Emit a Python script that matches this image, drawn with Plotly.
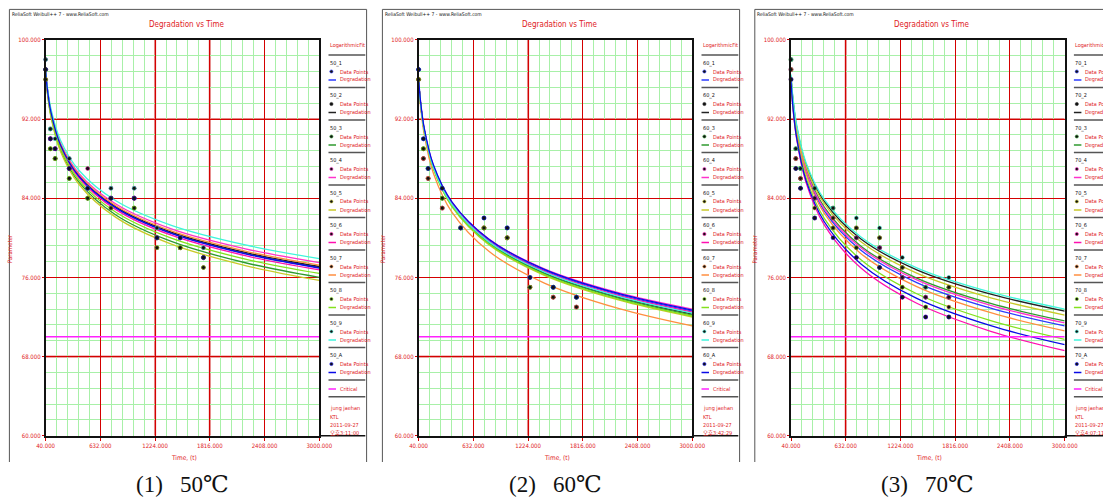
import plotly.graph_objects as go

W, H = 1103, 497
RED = '#e0211d'
GRID_RED = '#d40000'
GRID_PINK = '#e58585'
GREEN = '#a8f0a8'
CRIT_COLOR = '#ff22ff'
NARROW = 'Liberation Sans Narrow, DejaVu Sans Condensed, Arial Narrow, Noto Sans CJK KR, sans-serif'
SERIF = 'Liberation Serif, DejaVu Serif, Noto Sans CJK KR, serif'

# ---------------- data ----------------
PANEL_LABELS = ['(1)\u00a0\u00a0\u00a050\u2103', '(2)\u00a0\u00a0\u00a060\u2103', '(3)\u00a0\u00a0\u00a070\u2103']
PANEL_PREFIX = ['50', '60', '70']
SERIES_SUFFIX = ['1', '2', '3', '4', '5', '6', '7', '8', '9', 'A']
SERIES_COLORS = ['#2b3bff', '#222222', '#2f9a2f', '#ff33cc', '#c9c92a',
                 '#ff10b0', '#ff8f40', '#84e21e', '#3ff5dc', '#0a0ae6']
PANEL_STAMP = ['오후3:11:00', '오후3:42:29', '오후4:07:11']

X_TICKS = [40, 632, 1224, 1816, 2408, 3000]
Y_TICKS = [60, 68, 76, 84, 92, 100]
CRITICAL = 70
TIME_SPAN = [40, 3000]

# measurement times of the data points
PT_TIMES = [40, 92, 143, 296, 495, 747, 998, 1244, 1496, 1747]

P1_POINTS = [
    [97, 90, 89, 87, 85, 84, 84, 80, 80, 78],
    [96, 91, 88, 87, 84, 84, 84, 80, 79, 78],
    [97, 89, 88, 86, 84, 83, 83, 79, 79, 77],
    [98, 90, 89, 88, 85, 85, 85, 81, 80, 79],
    [96, 89, 88, 86, 84, 83, 83, 79, 79, 77],
    [97, 90, 89, 87, 87, 84, 84, 80, 80, 78],
    [97, 90, 89, 87, 85, 84, 84, 80, 79, 78],
    [97, 89, 88, 86, 84, 84, 83, 80, 79, 78],
    [98, 91, 90, 88, 85, 85, 85, 81, 80, 79],
    [97, 90, 89, 87, 85, 84, 84, 80, 80, 78],
]
P2_POINTS = [
    [97, 89, 87, 84, 81, 81, 80, 75, 74, 73],
    [96, 88, 86, 83, 81, 81, 80, 76, 75, 74],
    [96, 89, 87, 84, 81, 81, 81, 75, 75, 74],
    [97, 90, 87, 85, 81, 82, 81, 76, 75, 74],
    [96, 89, 86, 84, 81, 81, 80, 75, 74, 73],
    [96, 88, 86, 83, 81, 81, 80, 75, 74, 73],
    [96, 88, 86, 83, 81, 81, 80, 75, 74, 73],
    [96, 89, 87, 84, 81, 81, 80, 75, 75, 74],
    [97, 90, 87, 85, 81, 82, 81, 76, 75, 74],
    [97, 90, 87, 85, 81, 82, 81, 76, 75, 74],
]
P3_POINTS = [
    [97, 88, 86, 84, 82, 80, 79, 76, 74, 74],
    [98, 89, 87, 85, 83, 81, 80, 77, 75, 75],
    [97, 88, 86, 84, 82, 80, 79, 76, 74, 74],
    [97, 88, 86, 84, 82, 80, 79, 76, 74, 74],
    [98, 89, 87, 85, 83, 81, 80, 77, 75, 75],
    [96, 87, 85, 82, 81, 78, 77, 74, 72, 72],
    [97, 88, 86, 83, 82, 79, 78, 75, 73, 73],
    [96, 87, 85, 82, 81, 79, 77, 75, 73, 72],
    [98, 89, 87, 85, 83, 82, 81, 78, 75, 76],
    [96, 87, 85, 82, 80, 78, 77, 74, 72, 72],
]

# fitted degradation curves, read at these times
CURVE_T = [40, 60, 100, 200, 400, 800, 1400, 2200, 3000]

P1_CURVES = [
    [96.8, 94.94, 92.60, 89.41, 86.25, 83.06, 80.48, 78.43, 77.0],
    [96.8, 94.95, 92.62, 89.45, 86.30, 83.13, 80.57, 78.52, 77.1],
    [96.6, 94.66, 92.23, 88.92, 85.62, 82.30, 79.63, 77.48, 76.0],
    [96.8, 94.99, 92.71, 89.60, 86.51, 83.41, 80.90, 78.89, 77.5],
    [96.5, 94.54, 92.09, 88.74, 85.41, 82.06, 79.36, 77.20, 75.7],
    [96.7, 94.82, 92.47, 89.26, 86.07, 82.85, 80.26, 78.19, 76.75],
    [96.8, 94.96, 92.66, 89.51, 86.38, 83.23, 80.69, 78.66, 77.25],
    [96.6, 94.70, 92.32, 89.07, 85.83, 82.58, 79.96, 77.85, 76.4],
    [97.0, 95.20, 92.95, 89.88, 86.82, 83.74, 81.26, 79.28, 77.9],
    [96.8, 94.93, 92.59, 89.40, 86.22, 83.02, 80.44, 78.38, 76.95],
]
P2_CURVES = [
    [95.9, 93.71, 90.96, 87.21, 83.48, 79.73, 76.70, 74.28, 72.6],
    [95.9, 93.68, 90.90, 87.10, 83.32, 79.52, 76.45, 74.00, 72.3],
    [95.9, 93.67, 90.88, 87.06, 83.27, 79.45, 76.37, 73.91, 72.2],
    [95.9, 93.73, 91.00, 87.28, 83.59, 79.87, 76.87, 74.46, 72.8],
    [95.9, 93.65, 90.83, 86.99, 83.16, 79.31, 76.21, 73.72, 72.0],
    [95.9, 93.70, 90.94, 87.17, 83.43, 79.66, 76.62, 74.18, 72.5],
    [95.7, 93.39, 90.48, 86.52, 82.59, 78.63, 75.43, 72.87, 71.1],
    [95.9, 93.66, 90.85, 87.02, 83.21, 79.38, 76.29, 73.81, 72.1],
    [95.9, 93.69, 90.92, 87.13, 83.37, 79.59, 76.54, 74.09, 72.4],
    [96.1, 93.90, 91.14, 87.37, 83.63, 79.86, 76.82, 74.38, 72.7],
]
P3_CURVES = [
    [96.0, 93.66, 90.72, 86.71, 82.73, 78.72, 75.48, 72.89, 71.1],
    [96.3, 94.07, 91.28, 87.46, 83.67, 79.85, 76.77, 74.31, 72.6],
    [96.2, 93.89, 90.98, 87.02, 83.09, 79.13, 75.93, 73.37, 71.6],
    [96.1, 93.78, 90.86, 86.89, 82.93, 78.96, 75.75, 73.18, 71.4],
    [96.3, 94.03, 91.19, 87.31, 83.45, 79.57, 76.44, 73.94, 72.2],
    [95.8, 93.24, 90.03, 85.65, 81.30, 76.92, 73.39, 70.56, 68.6],
    [96.0, 93.61, 90.62, 86.53, 82.46, 78.37, 75.07, 72.43, 70.6],
    [95.9, 93.44, 90.36, 86.15, 81.96, 77.75, 74.35, 71.63, 69.75],
    [96.5, 94.27, 91.48, 87.66, 83.87, 80.05, 76.97, 74.51, 72.8],
    [95.8, 93.30, 90.16, 85.88, 81.62, 77.34, 73.88, 71.12, 69.2],
]

POINTS = [P1_POINTS, P2_POINTS, P3_POINTS]
CURVES = [P1_CURVES, P2_CURVES, P3_CURVES]

# major grid lines that look heavier (blurred) in the original
THICK_H = [[92, 68], [92, 68], [92, 68]]
THICK_V = [[1224, 1816], [1224], [632]]

# ---------------- layout helpers ----------------
OX = [0, 373, 745.4]          # horizontal offset of each panel (px)
PLOT_L, PLOT_R = 45.6, 319.3  # plot area in panel 1 (px)
PLOT_T, PLOT_B = 39.8, 435.8
LEG_FONT = 5.5


def px(x):
    return x / W


def py(y):
    return 1 - y / H


shapes = []
annotations = []


def text(x, y, s, size, color, xanchor='left', family=NARROW, angle=0):
    annotations.append(dict(x=px(x), y=py(y), xref='paper', yref='paper', text=s,
                            showarrow=False, xanchor=xanchor, yanchor='middle',
                            textangle=angle, borderpad=0,
                            font=dict(size=size, color=color, family=family)))


def seg(x0, y0, x1, y1, color, width):
    shapes.append(dict(type='line', xref='paper', yref='paper',
                       x0=px(x0), y0=py(y0), x1=px(x1), y1=py(y1),
                       line=dict(color=color, width=width)))


fig = go.Figure()
layout_axes = {}

for p in range(3):
    ox = OX[p]
    xa = 'x' if p == 0 else f'x{p + 1}'
    ya = 'y' if p == 0 else f'y{p + 1}'
    xkey = 'xaxis' if p == 0 else f'xaxis{p + 1}'
    ykey = 'yaxis' if p == 0 else f'yaxis{p + 1}'

    layout_axes[xkey] = dict(
        domain=[px(PLOT_L + ox), px(PLOT_R + ox)], anchor=ya, range=TIME_SPAN,
        tickmode='array', tickvals=X_TICKS, tickformat='.3f', automargin=False,
        showgrid=True, gridcolor=GRID_RED, gridwidth=1,
        minor=dict(tickmode='linear', tick0=X_TICKS[0], dtick=(X_TICKS[1] - X_TICKS[0]) / 5,
                   showgrid=True, gridcolor=GREEN, gridwidth=1, ticks=''),
        showline=True, linecolor='#111', linewidth=1.5, mirror=True,
        ticks='outside', ticklen=3, tickcolor=GRID_RED, tickwidth=1,
        tickfont=dict(size=6, color=RED, family=NARROW), zeroline=False, fixedrange=True)
    layout_axes[ykey] = dict(
        domain=[py(PLOT_B), py(PLOT_T)], anchor=xa, range=[Y_TICKS[0], Y_TICKS[-1]],
        tickmode='array', tickvals=Y_TICKS, tickformat='.3f', automargin=False,
        showgrid=True, gridcolor=GRID_RED, gridwidth=1,
        minor=dict(tickmode='linear', tick0=Y_TICKS[0], dtick=(Y_TICKS[1] - Y_TICKS[0]) / 5,
                   showgrid=True, gridcolor=GREEN, gridwidth=1, ticks=''),
        showline=True, linecolor='#111', linewidth=1.5, mirror=True,
        ticks='outside', ticklen=2, tickcolor=GRID_RED, tickwidth=1,
        tickfont=dict(size=6, color=RED, family=NARROW), zeroline=False, fixedrange=True)

    # heavier major grid lines (drawn under the traces)
    for v in THICK_H[p]:
        shapes.append(dict(type='line', xref=xa, yref=ya, x0=TIME_SPAN[0], x1=TIME_SPAN[1],
                           y0=v, y1=v, layer='below', line=dict(color=GRID_PINK, width=2.2)))
    for v in THICK_V[p]:
        shapes.append(dict(type='line', xref=xa, yref=ya, x0=v, x1=v,
                           y0=Y_TICKS[0], y1=Y_TICKS[-1], layer='below',
                           line=dict(color=GRID_PINK, width=2.2)))

    # degradation curves
    for i in range(10):
        fig.add_trace(go.Scatter(x=CURVE_T, y=CURVES[p][i], mode='lines', xaxis=xa, yaxis=ya,
                                 line=dict(color=SERIES_COLORS[i], width=1.3, shape='spline', smoothing=1),
                                 showlegend=False, hoverinfo='skip'))
    # critical line
    fig.add_trace(go.Scatter(x=TIME_SPAN, y=[CRITICAL, CRITICAL], mode='lines', xaxis=xa, yaxis=ya,
                             line=dict(color=CRIT_COLOR, width=1.6), showlegend=False, hoverinfo='skip'))
    # data points
    for i in range(10):
        fig.add_trace(go.Scatter(x=PT_TIMES, y=POINTS[p][i], mode='markers', xaxis=xa, yaxis=ya,
                                 marker=dict(size=4, color='#111',
                                             line=dict(color=SERIES_COLORS[i], width=0.5)),
                                 cliponaxis=False, showlegend=False, hoverinfo='skip'))

    # ---- frame (top, left, right) ----
    fl, fr, ft, fb = 9.4 + ox, 366.6 + ox, 9.4, 462
    seg(fl, ft, fr, ft, '#555', 1)
    seg(fl, ft, fl, fb, '#555', 1)
    seg(fr, ft, fr, fb, '#555', 1)

    # ---- titles ----
    text(11 + ox, 13.8, 'ReliaSoft Weibull++ 7 - www.ReliaSoft.com', 5, '#111')
    text(186.5 + ox, 24.6, 'Degradation vs Time', 8, RED, xanchor='center')
    text(183.5 + ox, 458, 'Time, (t)', 6.5, RED, xanchor='center')
    text(10 + ox, 249, 'Parameter', 6, RED, xanchor='center', angle=-90)
    text(182.5 + ox, 484, PANEL_LABELS[p], 23, '#111', xanchor='center', family=SERIF)

    # ---- legend block ----
    lx = 328.5 + ox
    rx = 365.3 + ox
    text(lx, 45, 'LogarithmicFit', LEG_FONT, RED)
    for k in range(11):
        seg(lx, 55 + 32.5 * k, rx, 55 + 32.5 * k, '#555', 1.5)
    for i in range(10):
        base = 55 + 32.5 * i
        text(lx, base + 8.3, PANEL_PREFIX[p] + '_' + SERIES_SUFFIX[i], LEG_FONT, '#111')
        cy = base + 16.5
        shapes.append(dict(type='circle', xref='paper', yref='paper',
                           x0=px(lx + 1.3), x1=px(lx + 4.5), y0=py(cy + 1.6), y1=py(cy - 1.6),
                           fillcolor='#111', line=dict(color=SERIES_COLORS[i], width=0.6)))
        text(lx + 10.5, cy, 'Data Points', LEG_FONT, RED)
        seg(lx, base + 25, lx + 7.5, base + 25, SERIES_COLORS[i], 1.5)
        text(lx + 10.5, base + 25, 'Degradation', LEG_FONT, RED)
    seg(lx, 389, lx + 7.5, 389, CRIT_COLOR, 1.5)
    text(lx + 10.5, 389, 'Critical', LEG_FONT, RED)
    seg(lx, 396.7, rx, 396.7, '#555', 1.5)
    text(lx, 408.3, 'jung jaehan', LEG_FONT, RED)
    text(lx, 416.7, 'KTL', LEG_FONT, RED)
    text(lx, 425, '2011-09-27', LEG_FONT, RED)
    text(lx, 433.3, PANEL_STAMP[p], LEG_FONT, RED)
    seg(PLOT_R + ox, PLOT_B, rx, PLOT_B, '#111', 1.5)

fig.update_layout(
    width=W, height=H, margin=dict(l=0, r=0, t=0, b=0, autoexpand=False),
    paper_bgcolor='white', plot_bgcolor='white', showlegend=False,
    shapes=shapes, annotations=annotations, **layout_axes)

fig.write_html('out.html')
